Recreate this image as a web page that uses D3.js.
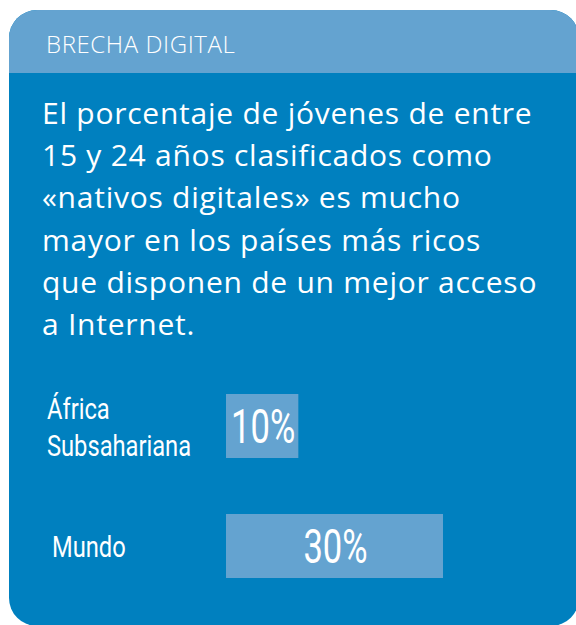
<!DOCTYPE html>
<html><head><meta charset="utf-8">
<script src="https://cdn.jsdelivr.net/npm/d3@7"></script>
<style>html,body{margin:0;padding:0;background:#fff;}svg{display:block;}</style>
</head><body>
<script>
const header = "BRECHA DIGITAL";
const titleLines = [
  "El porcentaje de jóvenes de entre",
  "15 y 24 años clasificados como",
  "«nativos digitales» es mucho",
  "mayor en los países más ricos",
  "que disponen de un mejor acceso",
  "a Internet."
];
const categories = ["África Subsahariana", "Mundo"];
const categoryLines = [["África", "Subsahariana"], ["Mundo"]];
const values = [10, 30];
const valueLabels = ["10%", "30%"];

const W = 576, H = 625;
const dark = "#0080bf", light = "#64a3d0";
const svg = d3.select("body").append("svg").attr("width", W).attr("height", H);

// card
svg.append("rect").attr("x", 9).attr("y", 10).attr("width", 570).attr("height", 616)
  .attr("rx", 28).attr("fill", dark);
const clip = svg.append("clipPath").attr("id", "cardclip");
clip.append("rect").attr("x", 9).attr("y", 10).attr("width", 570).attr("height", 616).attr("rx", 28);
svg.append("rect").attr("x", 9).attr("y", 10).attr("width", 570).attr("height", 63)
  .attr("fill", light).attr("clip-path", "url(#cardclip)");

svg.append("text").attr("x", 46).attr("y", 53).text(header)
  .attr("font-family", "'Open Sans', sans-serif").attr("font-weight", 300)
  .attr("font-size", 24).attr("letter-spacing", 0.6).attr("fill", "#fff");

svg.append("g").selectAll("text").data(titleLines).join("text")
  .attr("x", 42).attr("y", (d, i) => 124 + i * 42.2)
  .attr("font-family", "'Open Sans', sans-serif").attr("font-size", 30)
  .attr("letter-spacing", 0.75)
  .attr("fill", "#fff").text(d => d);

const x = d3.scaleLinear().domain([0, 30]).range([226, 443]);
const y = d3.scaleBand().domain(categories).range([394, 578]).paddingInner(56 / 120).paddingOuter(0);

const condensed = 0.79;
const rows = svg.append("g").selectAll("g").data(categories).join("g");

rows.append("rect")
  .attr("x", x(0)).attr("y", d => y(d))
  .attr("width", (d, i) => x(values[i]) - x(0)).attr("height", y.bandwidth())
  .attr("fill", light);

rows.each(function(d, i) {
  const g = d3.select(this);
  const cy = y(d) + y.bandwidth() / 2;
  const cx = (x(0) + x(values[i])) / 2;
  g.append("text")
    .attr("transform", `translate(${cx + 1},${cy + 17}) scale(0.72,1)`)
    .attr("text-anchor", "middle")
    .attr("font-family", "Roboto, sans-serif").attr("font-size", 48)
    .attr("fill", "#fff").text(valueLabels[i]);
  const lines = categoryLines[i];
  const lh = 37;
  const lx = lines.length > 1 ? 47 : 52;
  lines.forEach((t, j) => {
    const by = cy + 11 + (j - (lines.length - 1) / 2) * lh;
    g.append("text")
      .attr("transform", `translate(${lx},${by}) scale(${condensed},1)`)
      .attr("font-family", "Roboto, sans-serif").attr("font-size", 30)
      .attr("fill", "#fff").text(t);
  });
});
</script>
</body></html>
